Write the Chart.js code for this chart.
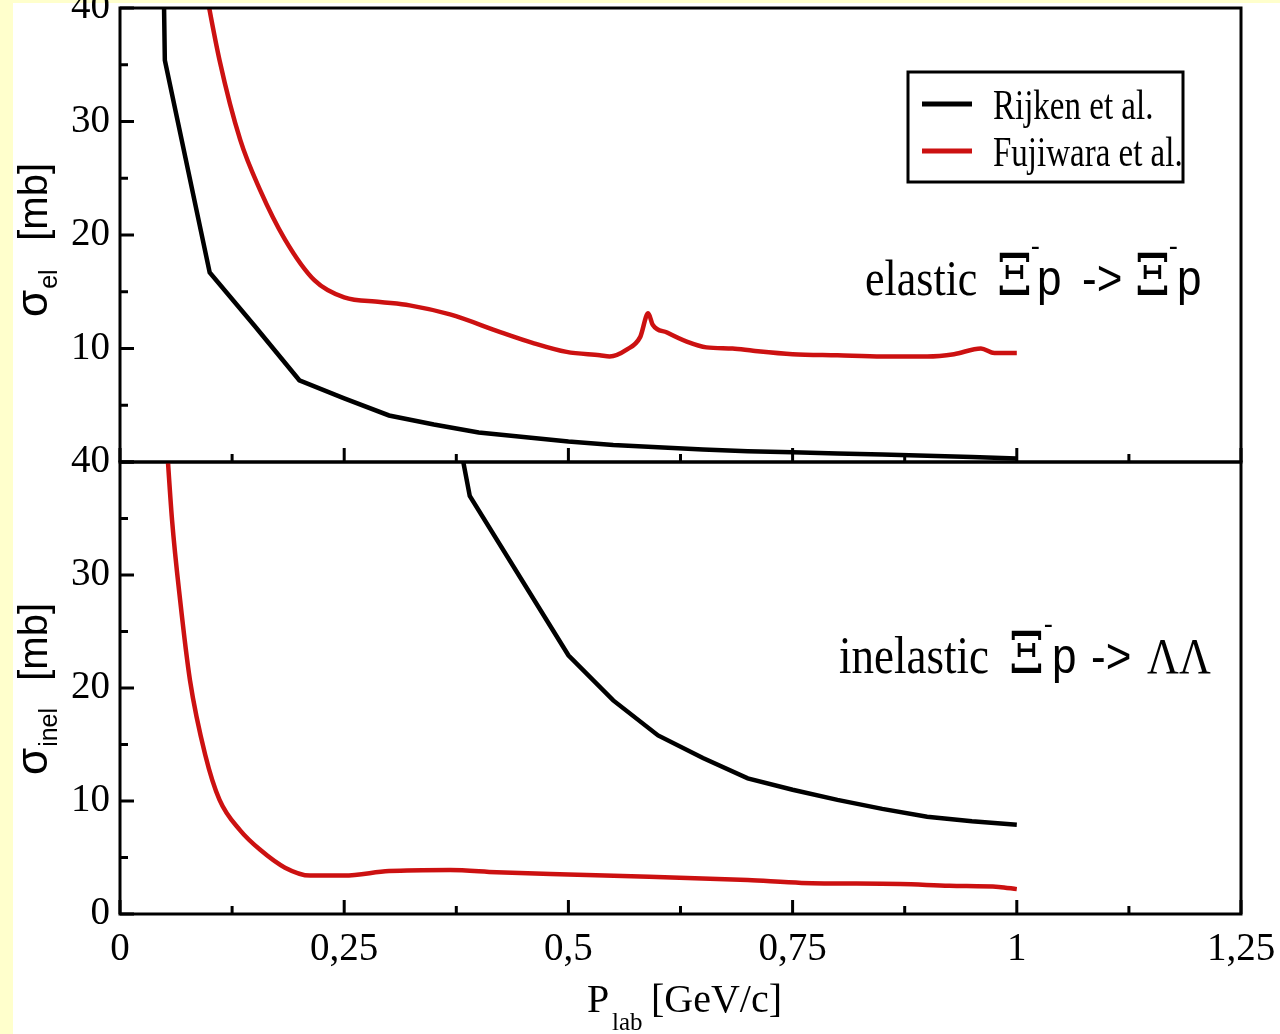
<!DOCTYPE html>
<html>
<head>
<meta charset="utf-8">
<title>Xi- p cross sections</title>
<script src="https://cdn.jsdelivr.net/npm/chart.js@4.4.1/dist/chart.umd.min.js"></script>
<style>
    html, body { margin: 0; padding: 0; background: #ffffcc; }
    #page { position: relative; width: 1280px; height: 1034px; overflow: hidden; }
    #sheet { position: absolute; left: 13px; top: 3px; right: 0; bottom: 0; background: #ffffff; }
    canvas { position: absolute; left: 0; }
    #elChart { top: 0; }
    #inelChart { top: 420px; }
</style>
</head>
<body>
<div id="page">
    <div id="sheet"></div>
    <canvas id="elChart" width="1280" height="470"></canvas>
    <canvas id="inelChart" width="1280" height="614"></canvas>
</div>
<script>
// ============================================
// Data
// ============================================

// elastic Xi- p -> Xi- p
const pRijkenEl = [0.048, 0.05, 0.1, 0.15, 0.2, 0.25, 0.3, 0.35, 0.4, 0.45, 0.5, 0.55,
                   0.6, 0.65, 0.7, 0.75, 0.8, 0.85, 0.9, 0.95, 1.0];
const sigRijkenEl = [46, 35.4, 16.7, 12.0, 7.2, 5.6, 4.1, 3.3, 2.6, 2.2, 1.8, 1.5,
                     1.3, 1.1, 0.95, 0.85, 0.75, 0.65, 0.55, 0.45, 0.3];

const pFujiEl = [0.09, 0.111, 0.134, 0.156, 0.184, 0.217, 0.25, 0.29, 0.323, 0.368, 0.424,
                 0.46, 0.498, 0.535, 0.546, 0.565, 0.58, 0.589, 0.594, 0.61, 0.632, 0.654,
                 0.683, 0.706, 0.75, 0.8, 0.85, 0.9, 0.93, 0.96, 0.975, 1.0];
const sigFujiEl = [44, 35.4, 28.4, 24, 19.6, 16, 14.5, 14.1, 13.8, 13.0, 11.45,
                   10.5, 9.7, 9.4, 9.3, 9.9, 11.0, 13.1, 12.1, 11.4, 10.6, 10.1,
                   10.0, 9.8, 9.5, 9.4, 9.3, 9.3, 9.5, 10.0, 9.6, 9.6];

// inelastic Xi- p -> Lambda Lambda
const pRijkenInel = [0.378, 0.39, 0.5, 0.55, 0.6, 0.65, 0.7, 0.75, 0.8, 0.85, 0.9, 0.95, 1.0];
const sigRijkenInel = [42, 37.0, 22.9, 18.9, 15.8, 13.8, 12.0, 11.0, 10.1, 9.3, 8.6, 8.2, 7.9];

const pFujiInel = [0.051, 0.058, 0.067, 0.078, 0.095, 0.111, 0.134, 0.156, 0.184, 0.212,
                   0.25, 0.3, 0.368, 0.42, 0.5, 0.59, 0.7, 0.76, 0.87, 0.925, 0.98, 1.0];
const sigFujiInel = [43, 34.9, 27.8, 20.7, 14.1, 10.1, 7.4, 5.7, 4.1, 3.4,
                     3.4, 3.8, 3.9, 3.7, 3.5, 3.3, 3.0, 2.75, 2.65, 2.5, 2.4, 2.2];

// axis ticks
const yMajorTicks = [0, 10, 20, 30, 40];
const yMinorTicks = [5, 15, 25, 35];
const xMajorTicks = [0, 0.25, 0.5, 0.75, 1, 1.25];
const xMinorTicks = [0.125, 0.375, 0.625, 0.875, 1.125];

const seriesNames = ['Rijken et al.', 'Fujiwara et al.'];

const BLACK = '#000000';
const RED = '#cc1111';
const SERIF = '"Liberation Serif", "Times New Roman", serif';
const SANS = '"Liberation Sans", Arial, sans-serif';
const GREEK = '"DejaVu Serif", serif';

function toPoints(xs, ys) {
    return xs.map((x, i) => ({ x: x, y: ys[i] }));
}

// ============================================
// Text helpers
// ============================================
function drawText(ctx, text, x, y, font, stretch, align) {
    ctx.save();
    ctx.translate(x, y);
    ctx.scale(1, stretch || 1);
    ctx.font = font;
    ctx.fillStyle = BLACK;
    ctx.textAlign = align || 'left';
    ctx.textBaseline = 'alphabetic';
    ctx.fillText(text, 0, 0);
    ctx.restore();
}

// rotated sigma_sub [mb] title, running from yFrom (bottom) up to yTo
function drawYTitle(ctx, sub, yFrom, yTo) {
    ctx.save();
    ctx.translate(47, yFrom);
    ctx.rotate(-Math.PI / 2);
    ctx.fillStyle = BLACK;
    ctx.textBaseline = 'alphabetic';
    ctx.font = '44px ' + SANS;
    ctx.fillText('σ', 0, 0);
    const w = ctx.measureText('σ').width;
    ctx.font = '25px ' + SANS;
    ctx.fillText(sub, w + 1, 10);
    ctx.font = '40px ' + SANS;
    ctx.textAlign = 'right';
    ctx.fillText('[mb]', yFrom - yTo, 0);
    ctx.restore();
}

function drawLegend(ctx, datasets) {
    ctx.save();
    ctx.fillStyle = '#ffffff';
    ctx.fillRect(908, 72, 275, 110);
    ctx.strokeStyle = BLACK;
    ctx.lineWidth = 3;
    ctx.strokeRect(908, 72, 275, 110);
    const rows = [104, 151];
    datasets.forEach((ds, i) => {
        ctx.strokeStyle = ds.borderColor;
        ctx.lineWidth = 5;
        ctx.beginPath();
        ctx.moveTo(922, rows[i]);
        ctx.lineTo(972, rows[i]);
        ctx.stroke();
        drawText(ctx, ds.label, 993, rows[i] + 15, '33px ' + SERIF, 1.3);
    });
    ctx.restore();
}

// ============================================
// Frame, inward ticks and labels for one panel
// ============================================
function makeDecor(cfg) {
    return {
        id: 'panelDecor',
        afterDatasetsDraw(chart) {
            const { ctx, chartArea: a } = chart;
            const xs = chart.scales.x;
            const ys = chart.scales.y;

            ctx.save();
            ctx.strokeStyle = BLACK;
            ctx.lineWidth = 3;
            ctx.strokeRect(a.left, a.top, a.right - a.left, a.bottom - a.top);
            ctx.beginPath();
            yMajorTicks.forEach(v => {
                const py = ys.getPixelForValue(v);
                ctx.moveTo(a.left, py);
                ctx.lineTo(a.left + 14, py);
            });
            yMinorTicks.forEach(v => {
                const py = ys.getPixelForValue(v);
                ctx.moveTo(a.left, py);
                ctx.lineTo(a.left + 8, py);
            });
            xMajorTicks.forEach(v => {
                const px = xs.getPixelForValue(v);
                ctx.moveTo(px, a.bottom);
                ctx.lineTo(px, a.bottom - 14);
            });
            xMinorTicks.forEach(v => {
                const px = xs.getPixelForValue(v);
                ctx.moveTo(px, a.bottom);
                ctx.lineTo(px, a.bottom - 8);
            });
            ctx.stroke();
            ctx.restore();

            // everything below is placed in page coordinates
            ctx.save();
            ctx.translate(0, -cfg.top);
            drawYTitle(ctx, cfg.sub, cfg.titleFrom, cfg.titleTo);
            cfg.reaction.forEach(piece => {
                drawText(ctx, piece[0], piece[2], cfg.baseline + (piece[3] || 0),
                         piece[1], 1.15);
            });
            if (cfg.legend) drawLegend(ctx, chart.data.datasets);
            if (cfg.xTitle) {
                drawText(ctx, 'P', 587, 1012, '40px ' + SERIF);
                drawText(ctx, 'lab', 612, 1030, '25px ' + SERIF);
                drawText(ctx, '[GeV/c]', 651, 1012, '40px ' + SERIF);
            }
            ctx.restore();
        }
    };
}

// ============================================
// Shared chart options
// ============================================
function makeOptions(showX, hideZero, padding) {
    return {
        responsive: false,
        animation: false,
        events: [],
        layout: { padding: padding },
        plugins: {
            legend: { display: false },
            tooltip: { enabled: false }
        },
        scales: {
            x: {
                type: 'linear',
                min: 0,
                max: 1.25,
                display: showX,
                grid: { display: false, drawTicks: false },
                border: { display: false },
                ticks: {
                    stepSize: 0.25,
                    padding: 12,
                    color: BLACK,
                    font: { family: SERIF, size: 39 },
                    maxRotation: 0,
                    callback: v => String(v).replace('.', ',')
                },
                afterFit(scale) {
                    scale.height = showX ? 120 : 0;
                    scale.paddingLeft = 0;
                    scale.paddingRight = 0;
                }
            },
            y: {
                type: 'linear',
                min: 0,
                max: 40,
                grid: { display: false, drawTicks: false },
                border: { display: false },
                ticks: {
                    stepSize: 10,
                    padding: 10,
                    color: BLACK,
                    font: { family: SERIF, size: 39 },
                    callback: v => (hideZero && v === 0) ? '' : v
                },
                afterFit(scale) {
                    scale.width = 120;
                    scale.paddingTop = 0;
                    scale.paddingBottom = 0;
                }
            }
        }
    };
}

function lineSet(label, color, xs, ys, smooth) {
    return {
        label: label,
        data: toPoints(xs, ys),
        borderColor: color,
        backgroundColor: color,
        borderWidth: 4.5,
        pointRadius: 0,
        fill: false,
        clip: 0,
        tension: 0,
        cubicInterpolationMode: smooth ? 'monotone' : 'default'
    };
}

// ============================================
// Top panel: elastic
// ============================================
new Chart(document.getElementById('elChart').getContext('2d'), {
    type: 'line',
    data: {
        datasets: [
            lineSet(seriesNames[0], BLACK, pRijkenEl, sigRijkenEl, false),
            lineSet(seriesNames[1], RED, pFujiEl, sigFujiEl, true)
        ]
    },
    options: makeOptions(false, true, { top: 8, right: 39, bottom: 8, left: 0 }),
    plugins: [makeDecor({
        top: 0,
        sub: 'el',
        titleFrom: 317,
        titleTo: 163,
        legend: true,
        baseline: 295,
        reaction: [
            ['elastic', '44px ' + SERIF, 865],
            ['Ξ', '50px ' + GREEK, 997],
            ['-', '26px ' + SERIF, 1031, -40],
            ['p', '44px ' + SANS, 1037],
            ['->', '44px ' + SANS, 1082],
            ['Ξ', '50px ' + GREEK, 1135],
            ['-', '26px ' + SERIF, 1169, -40],
            ['p', '44px ' + SANS, 1177]
        ]
    })]
});

// ============================================
// Bottom panel: inelastic
// ============================================
new Chart(document.getElementById('inelChart').getContext('2d'), {
    type: 'line',
    data: {
        datasets: [
            lineSet(seriesNames[0], BLACK, pRijkenInel, sigRijkenInel, false),
            lineSet(seriesNames[1], RED, pFujiInel, sigFujiInel, true)
        ]
    },
    options: makeOptions(true, false, { top: 42, right: 39, bottom: 0, left: 0 }),
    plugins: [makeDecor({
        top: 420,
        sub: 'inel',
        titleFrom: 775,
        titleTo: 603,
        legend: false,
        xTitle: true,
        baseline: 673,
        reaction: [
            ['inelastic', '45px ' + SERIF, 839],
            ['Ξ', '50px ' + GREEK, 1009],
            ['-', '26px ' + SERIF, 1044, -40],
            ['p', '44px ' + SANS, 1052],
            ['->', '44px ' + SANS, 1091],
            ['ΛΛ', '44px ' + SERIF, 1147]
        ]
    })]
});
</script>
</body>
</html>
